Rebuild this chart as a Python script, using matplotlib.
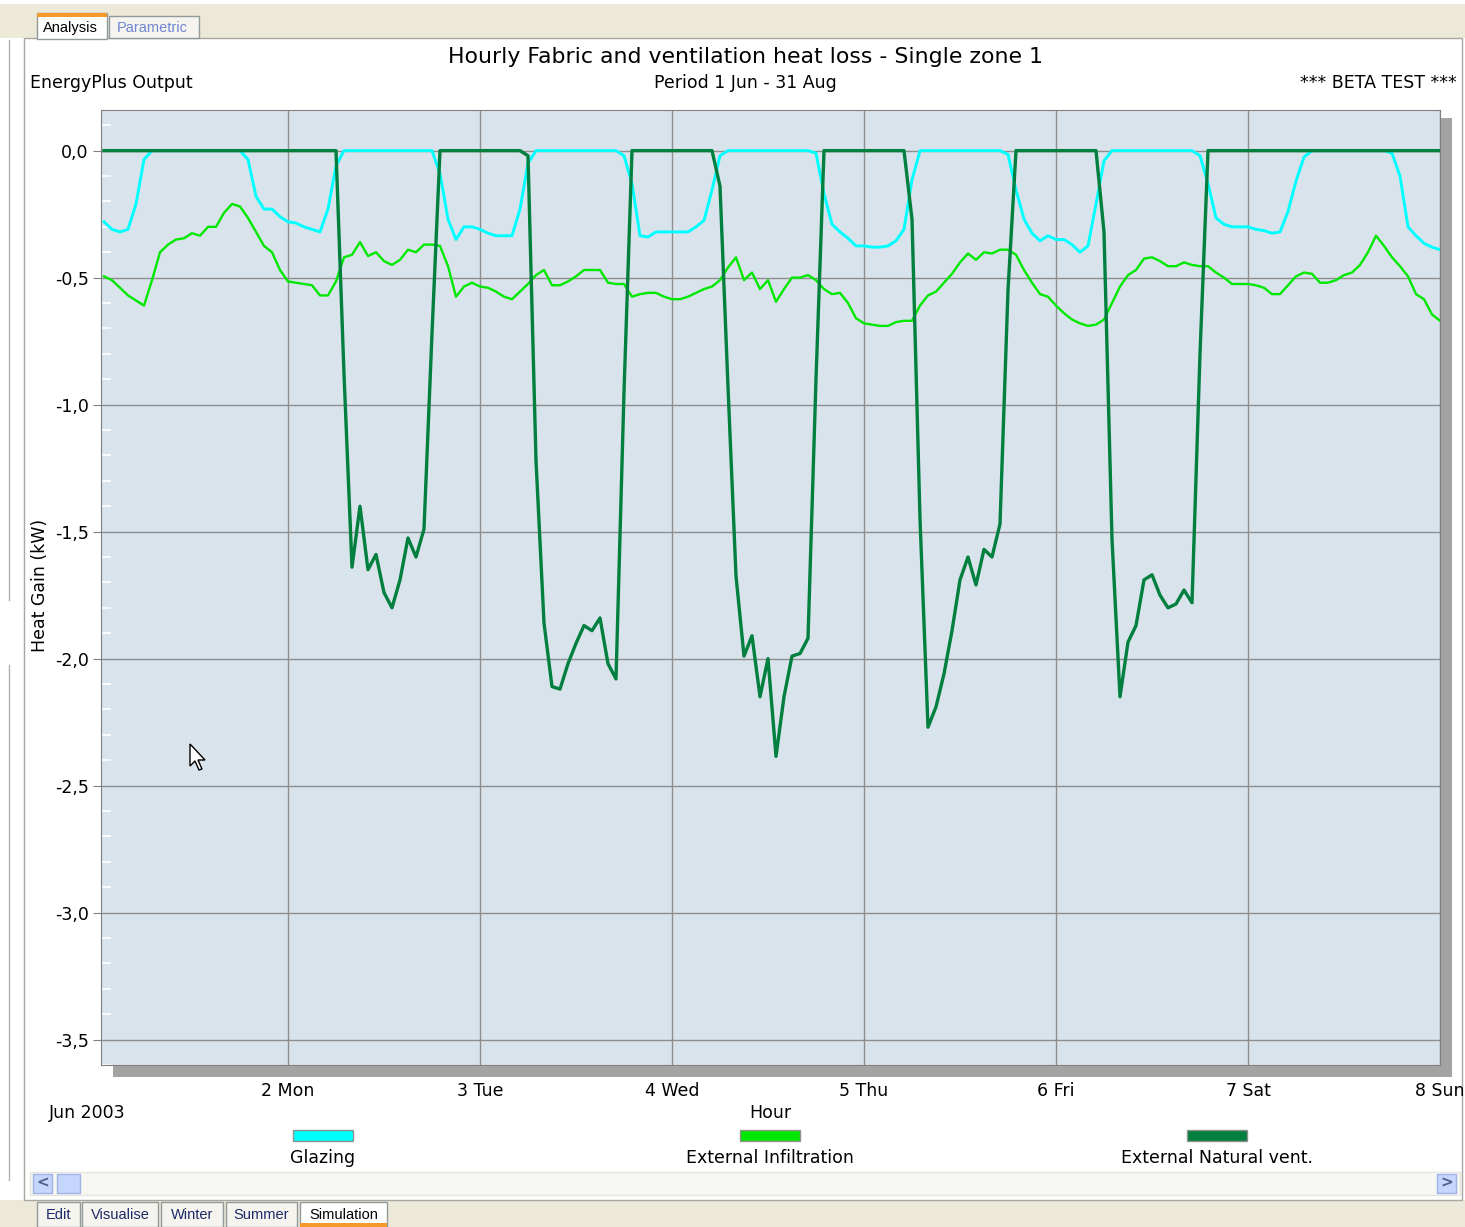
import numpy as np
import matplotlib
matplotlib.use("Agg")
import matplotlib.pyplot as plt
from matplotlib.patches import Rectangle, Polygon
from matplotlib.ticker import MultipleLocator, FuncFormatter

W, H = 1465, 1227

# hourly values, 1 Jun 01:00 .. 8 Jun 00:00
hours = np.arange(1, 169)
day_ticks = [24, 48, 72, 96, 120, 144, 168]
day_labels = ["2 Mon", "3 Tue", "4 Wed", "5 Thu", "6 Fri", "7 Sat", "8 Sun"]
y_ticks = [0.0, -0.5, -1.0, -1.5, -2.0, -2.5, -3.0, -3.5]
series_names = ["Glazing", "External Infiltration", "External Natural vent."]

glazing = [
    -0.28, -0.31, -0.32, -0.31, -0.21, -0.035, 0, 0, 0, 0, 0, 0, 0, 0, 0, 0, 0, 0, -0.035, -0.18, -0.23, -0.23, -0.26, -0.28,
    -0.285, -0.30, -0.31, -0.32, -0.23, -0.06, 0, 0, 0, 0, 0, 0, 0, 0, 0, 0, 0, 0, -0.09, -0.27, -0.35, -0.30, -0.30, -0.31,
    -0.325, -0.335, -0.335, -0.335, -0.23, -0.05, 0, 0, 0, 0, 0, 0, 0, 0, 0, 0, 0, -0.02, -0.13, -0.335, -0.34, -0.32, -0.32, -0.32,
    -0.32, -0.32, -0.30, -0.275, -0.155, -0.02, 0, 0, 0, 0, 0, 0, 0, 0, 0, 0, 0, -0.01, -0.17, -0.29, -0.32, -0.345, -0.375, -0.375,
    -0.38, -0.38, -0.375, -0.355, -0.31, -0.115, 0, 0, 0, 0, 0, 0, 0, 0, 0, 0, 0, -0.015, -0.155, -0.27, -0.325, -0.355, -0.335, -0.35,
    -0.35, -0.37, -0.40, -0.375, -0.21, -0.04, 0, 0, 0, 0, 0, 0, 0, 0, 0, 0, 0, -0.02, -0.13, -0.265, -0.29, -0.30, -0.30, -0.30,
    -0.31, -0.315, -0.325, -0.32, -0.24, -0.12, -0.025, 0, 0, 0, 0, 0, 0, 0, 0, 0, 0, -0.01, -0.10, -0.30, -0.335, -0.365, -0.38, -0.39,
]

infiltration = [
    -0.495, -0.51, -0.54, -0.57, -0.59, -0.61, -0.51, -0.40, -0.37, -0.35, -0.345, -0.325, -0.335, -0.30, -0.30, -0.245, -0.21, -0.22, -0.265, -0.32, -0.375, -0.40, -0.47, -0.515,
    -0.52, -0.525, -0.53, -0.57, -0.57, -0.515, -0.42, -0.41, -0.36, -0.415, -0.40, -0.435, -0.45, -0.43, -0.39, -0.40, -0.37, -0.37, -0.375, -0.455, -0.575, -0.535, -0.52, -0.535,
    -0.54, -0.555, -0.575, -0.585, -0.555, -0.525, -0.49, -0.47, -0.53, -0.53, -0.515, -0.495, -0.47, -0.47, -0.47, -0.52, -0.525, -0.525, -0.575, -0.565, -0.56, -0.56, -0.575, -0.585,
    -0.585, -0.575, -0.56, -0.545, -0.535, -0.51, -0.46, -0.42, -0.51, -0.48, -0.545, -0.51, -0.595, -0.545, -0.50, -0.50, -0.49, -0.51, -0.545, -0.565, -0.56, -0.60, -0.66, -0.68,
    -0.685, -0.69, -0.69, -0.675, -0.67, -0.67, -0.61, -0.57, -0.555, -0.52, -0.485, -0.44, -0.405, -0.43, -0.40, -0.405, -0.39, -0.39, -0.41, -0.47, -0.52, -0.565, -0.575, -0.61,
    -0.64, -0.665, -0.68, -0.69, -0.685, -0.665, -0.60, -0.535, -0.49, -0.47, -0.425, -0.42, -0.435, -0.455, -0.455, -0.44, -0.45, -0.455, -0.455, -0.48, -0.50, -0.525, -0.525, -0.525,
    -0.53, -0.54, -0.565, -0.565, -0.53, -0.495, -0.48, -0.485, -0.52, -0.52, -0.51, -0.49, -0.48, -0.45, -0.40, -0.335, -0.375, -0.42, -0.455, -0.495, -0.565, -0.585, -0.645, -0.67,
]

natural_vent = [
    0, 0, 0, 0, 0, 0, 0, 0, 0, 0, 0, 0, 0, 0, 0, 0, 0, 0, 0, 0, 0, 0, 0, 0,
    0, 0, 0, 0, 0, 0, -0.88, -1.64, -1.40, -1.65, -1.59, -1.74, -1.80, -1.69, -1.525, -1.60, -1.49, -0.72, 0, 0, 0, 0, 0, 0,
    0, 0, 0, 0, 0, -0.02, -1.22, -1.86, -2.11, -2.12, -2.02, -1.94, -1.87, -1.89, -1.84, -2.02, -2.08, -0.95, 0, 0, 0, 0, 0, 0,
    0, 0, 0, 0, 0, -0.14, -0.93, -1.675, -1.99, -1.91, -2.15, -2.0, -2.385, -2.15, -1.99, -1.98, -1.92, -0.9, 0, 0, 0, 0, 0, 0,
    0, 0, 0, 0, 0, -0.27, -1.45, -2.27, -2.19, -2.06, -1.89, -1.69, -1.60, -1.71, -1.57, -1.60, -1.47, -0.55, 0, 0, 0, 0, 0, 0,
    0, 0, 0, 0, 0, -0.32, -1.53, -2.15, -1.935, -1.87, -1.69, -1.67, -1.75, -1.80, -1.785, -1.73, -1.78, -0.8, 0, 0, 0, 0, 0, 0,
    0, 0, 0, 0, 0, 0, 0, 0, 0, 0, 0, 0, 0, 0, 0, 0, 0, 0, 0, 0, 0, 0, 0, 0,
]

colors = ["#00ffff", "#00e800", "#007f3f"]
widths = [2.1, 1.7, 2.4]

plt.rcParams["font.family"] = ["DejaVu Sans"]
FS = 12.5


def fx(x):
    return x / W


def fy(y):
    return 1 - y / H


def box(x0, y0, x1, y1, **kw):
    r = Rectangle((fx(x0), fy(y1)), fx(x1) - fx(x0), fy(y0) - fy(y1),
                  transform=fig.transFigure, **kw)
    fig.add_artist(r)
    return r


fig = plt.figure(figsize=(W / 100, H / 100), dpi=100, facecolor="white")

# window chrome
box(0, 4, W, 38, facecolor="#ece9d8", edgecolor="none", zorder=0)
box(0, 1200, W, H, facecolor="#ece9d8", edgecolor="none", zorder=0)
box(24, 38, 1462, 1200, facecolor="white", edgecolor="#a8a8a0", lw=1, zorder=0)
fig.add_artist(plt.Line2D([fx(9), fx(9)], [fy(40), fy(600)], transform=fig.transFigure, color="#b0b0b0", lw=1))
fig.add_artist(plt.Line2D([fx(9), fx(9)], [fy(665), fy(1180)], transform=fig.transFigure, color="#b0b0b0", lw=1))

# top tabs
tab_font = ["Liberation Sans", "DejaVu Sans"]
box(37, 13, 107, 39, facecolor="white", edgecolor="#919b9c", lw=1, zorder=1)
box(37, 13, 107, 17, facecolor="#f79a2c", edgecolor="none", zorder=2)
box(109, 16, 199, 38, facecolor="#f5f4ee", edgecolor="#919b9c", lw=1, zorder=1)
fig.text(fx(70), fy(28), "Analysis", ha="center", va="center", fontsize=10.5, color="black", family=tab_font)
fig.text(fx(152), fy(28), "Parametric", ha="center", va="center", fontsize=10.5, color="#6f86d4", family=tab_font)

# bottom tabs
tabs = [("Edit", 37, 80), ("Visualise", 82, 158), ("Winter", 161, 223),
        ("Summer", 226, 297), ("Simulation", 300, 387)]
for name, a, b in tabs:
    active = name == "Simulation"
    box(a, 1202, b, 1227, facecolor="white" if active else "#f5f4ee",
        edgecolor="#919b9c", lw=1, zorder=1)
    fig.text(fx((a + b) / 2), fy(1215), name, ha="center", va="center",
             fontsize=10.5, color="black" if active else "#1c2a68", family=tab_font)
box(300, 1223, 387, 1227, facecolor="#f79a2c", edgecolor="none", zorder=2)

# scroll bar
box(30, 1172, 1460, 1195, facecolor="#f6f6f3", edgecolor="#e6e6e0", lw=1, zorder=1)
box(33, 1174, 52, 1193, facecolor="#c6d5fb", edgecolor="#9fb3e6", lw=1, zorder=2)
box(57, 1174, 80, 1193, facecolor="#c6d5fb", edgecolor="#9fb3e6", lw=1, zorder=2)
box(1437, 1174, 1456, 1193, facecolor="#c6d5fb", edgecolor="#9fb3e6", lw=1, zorder=2)
fig.text(fx(42.5), fy(1183), "<", ha="center", va="center", fontsize=11, color="#4d6185", weight="bold")
fig.text(fx(1446.5), fy(1183), ">", ha="center", va="center", fontsize=11, color="#4d6185", weight="bold")

# titles
fig.text(fx(745), fy(57), "Hourly Fabric and ventilation heat loss - Single zone 1",
         ha="center", va="center", fontsize=15.8)
fig.text(fx(30), fy(83), "EnergyPlus Output", ha="left", va="center", fontsize=FS)
fig.text(fx(745), fy(83), "Period 1 Jun - 31 Aug", ha="center", va="center", fontsize=FS)
fig.text(fx(1457), fy(83), "*** BETA TEST ***", ha="right", va="center", fontsize=FS)

# plot area with 3D shadow
ax_l, ax_r, ax_t, ax_b = 101, 1440, 110, 1065
box(ax_l + 12, ax_t + 8, ax_r + 12, ax_b + 12, facecolor="#a3a3a3", edgecolor="none", zorder=0)
ax = fig.add_axes([fx(ax_l), fy(ax_b), fx(ax_r) - fx(ax_l), fy(ax_t) - fy(ax_b)])
ax.set_facecolor("#d9e3ec")

for vals, c, lw in zip([glazing, infiltration, natural_vent], colors, widths):
    ax.plot(hours, vals, color=c, lw=lw, zorder=3)

ax.set_xlim(0.625, 168)
ax.set_ylim(-3.6, 0.16)
ax.set_xticks(day_ticks)
ax.set_xticklabels(day_labels)
ax.set_yticks(y_ticks)
ax.yaxis.set_major_formatter(FuncFormatter(lambda v, p: f"{v:.1f}".replace(".", ",")))
ax.yaxis.set_minor_locator(MultipleLocator(0.1))
ax.grid(True, which="major", color="#8e8e8e", lw=1, zorder=1)
ax.tick_params(axis="y", which="major", length=6, color="#808080", labelsize=FS, pad=3)
ax.tick_params(axis="y", which="minor", direction="in", length=7, color="white", width=1.2)
ax.tick_params(axis="x", length=0, labelsize=FS, pad=12)
for s in ax.spines.values():
    s.set_color("#808080")
ax.set_axisbelow(True)

fig.text(fx(40), fy(585), "Heat Gain (kW)", rotation=90, ha="center", va="center", fontsize=FS)
fig.text(fx(49), fy(1113), "Jun 2003", ha="left", va="center", fontsize=FS)
fig.text(fx(770), fy(1113), "Hour", ha="center", va="center", fontsize=FS)

# legend
for name, c, cx in zip(series_names, colors, [323, 770, 1217]):
    box(cx - 30, 1130, cx + 30, 1141, facecolor=c, edgecolor="#909090", lw=1, zorder=2)
    fig.text(fx(cx), fy(1158), name, ha="center", va="center", fontsize=FS)

# mouse pointer left on the screenshot
pts = np.array([[190, 744], [190, 766], [195, 761], [199, 770], [202, 769], [198, 760], [205, 760]])
fig.add_artist(Polygon(np.column_stack([fx(pts[:, 0]), fy(pts[:, 1])]), closed=True,
                       transform=fig.transFigure, facecolor="white", edgecolor="black", lw=1, zorder=5))

fig.savefig("out.png", dpi=100)
